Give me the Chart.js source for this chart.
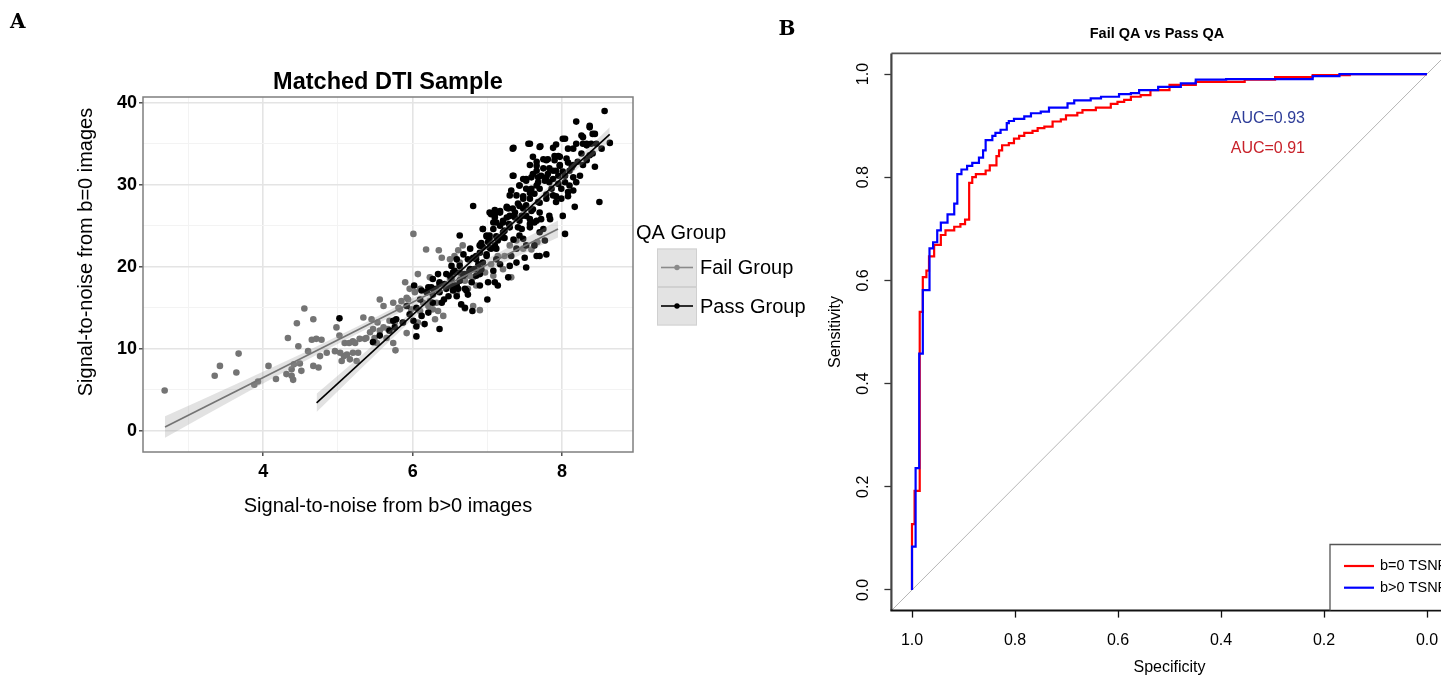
<!DOCTYPE html>
<html><head><meta charset="utf-8">
<script src="https://cdn.jsdelivr.net/npm/chart.js@4.4.1/dist/chart.umd.min.js"></script>
<style>
html,body{margin:0;padding:0;width:1441px;height:675px;overflow:hidden;background:#fff;}
#wrapA{position:absolute;left:0;top:0;width:830px;height:675px;}
#wrapB{position:absolute;left:770px;top:0;width:774px;height:700px;}
.lab{position:absolute;font-family:"DejaVu Serif","Liberation Serif",serif;font-weight:bold;font-size:20px;line-height:1;color:#000;}
</style></head><body>
<div id="wrapA"><canvas id="cA" width="830" height="675"></canvas></div>
<div id="wrapB"><canvas id="cB" width="774" height="700"></canvas></div>
<div class="lab" style="left:10px;top:11px">A</div>
<div class="lab" style="left:778.5px;top:18.4px">B</div>
<script>
// ---------- Panel A data ----------
const failX = [2.68,3.35,3.42,3.64,3.67,3.88,3.93,4.07,4.17,4.31,
4.33,4.38,4.40,4.41,4.45,4.47,4.49,4.51,4.55,4.60,
4.65,4.67,4.67,4.71,4.74,4.76,4.78,4.96,4.98,5.02,
5.05,5.08,5.09,5.12,5.15,5.20,5.23,5.25,5.27,5.29,
5.34,5.36,5.45,5.47,5.49,5.53,5.56,5.56,5.61,5.65,
5.67,5.74,5.77,5.81,5.85,5.90,5.92,5.94,5.96,5.92,
6.01,6.07,6.10,6.18,6.19,6.21,6.23,6.27,6.30,6.34,
6.35,6.39,6.41,6.50,6.56,6.61,6.67,6.63,6.64,6.70,
6.76,6.81,6.88,6.90,6.97,7.05,7.14,7.23,7.30,7.32,
7.39,7.48,7.59,7.67,6.81,6.70,6.59,6.74,6.85,6.23,
6.32,6.14,6.03,5.83,5.76,5.69,5.43,5.38,5.20,5.16,
5.03,4.85,4.38,5.61,5.74,5.98,6.10,6.07,5.87,5.52,
6.50,7.08,7.21];
const failY = [4.9,6.7,7.9,7.1,9.4,5.6,6.0,7.9,6.3,6.9,
11.3,6.7,6.2,8.1,13.1,10.3,8.2,7.3,14.9,9.7,
11.1,13.6,7.9,11.2,7.7,9.1,11.1,9.7,12.6,11.6,
8.5,9.1,10.7,9.3,10.7,10.9,10.7,8.5,9.5,11.2,
13.8,11.2,13.6,12.4,11.3,13.2,16.0,12.2,12.6,11.3,
12.4,10.7,9.8,15.0,15.8,18.1,16.2,16.0,17.3,11.9,
24.0,19.1,17.3,22.1,16.9,15.2,18.7,14.8,13.6,14.6,
22.0,21.1,14.0,20.9,21.3,22.0,22.6,20.5,18.5,18.3,
18.9,18.7,19.1,14.7,19.3,20.3,21.3,21.3,22.6,18.7,
23.2,22.2,22.1,23.0,15.2,14.9,16.7,17.3,17.7,15.8,
15.6,15.6,16.9,14.8,13.2,13.4,12.0,11.3,9.5,8.7,
9.5,9.5,7.5,15.2,15.6,14.8,14.6,13.2,13.2,10.7,
18.5,18.9,19.7];
const passX = [5.02,5.74,5.78,5.92,6.02,6.05,6.05,6.12,6.16,6.21,
6.25,6.27,6.34,6.36,6.39,6.36,6.45,6.50,6.54,6.56,
6.59,6.63,6.65,6.70,6.72,6.74,6.80,6.90,7.00,7.10,
7.14,6.81,6.85,6.90,6.99,7.05,7.10,7.17,7.21,7.26,
7.28,7.29,7.34,7.34,7.39,7.41,7.43,7.46,7.48,7.50,
7.52,7.55,7.48,7.52,7.59,7.66,7.70,7.68,7.70,7.72,
7.75,7.77,7.79,7.70,7.63,7.57,7.59,7.79,7.86,7.88,
7.92,7.97,8.01,8.04,8.01,8.04,8.08,8.15,8.17,8.19,
8.24,8.28,8.33,8.37,8.41,8.44,8.50,8.19,8.28,8.37,
8.41,8.57,8.64,8.53,8.46,7.92,7.88,8.04,8.08,7.79,
7.75,7.66,7.59,7.52,7.43,7.39,7.34,7.32,7.26,7.21,
7.12,7.08,7.03,7.01,6.94,6.90,6.81,6.74,6.63,6.56,
6.52,6.43,6.36,6.27,6.19,6.10,6.05,5.96,5.87,5.76,
5.69,5.56,5.47,7.61,7.66,7.72,7.83,7.95,7.99,8.10,
8.15,8.21,8.26,8.33,8.39,8.06,7.97,7.90,7.83,7.77,
7.70,7.63,7.57,7.52,7.48,7.41,7.37,7.30,7.23,7.19,
7.14,7.10,7.05,6.99,6.94,6.88,6.83,6.76,6.70,6.63,
6.59,6.54,6.48,6.42,6.32,6.27,6.21,6.12,6.01,7.83,
7.92,7.99,7.88,8.10,8.15,7.95,7.81,7.68,7.57,7.48,
7.43,7.57,7.63,7.70,7.52,7.39,7.32,7.30,7.17,7.12,
7.08,7.01,6.92,6.85,6.79,6.70,6.61,7.66,
7.35,7.57,7.71,7.75,7.81,7.90,7.95,8.01,8.15,8.19,
8.28,8.33,8.37,8.44,8.26,8.04,7.66,7.61,7.52,7.43,
7.35,7.30,7.48,7.57,7.68,7.79,7.88,7.97,8.08,8.13,
7.79,7.70,7.61,7.52,7.43,7.37,7.26,7.17,7.10,7.08,
7.21,7.30,7.46,7.57,7.66,7.84,7.92,8.08,6.94,6.99,
7.12,7.23,7.35,6.92,7.03,
7.03,7.10,7.17,7.28,6.94,7.03,6.90,6.77,6.68,6.59,
6.85,6.99,7.12,6.77,6.63,6.52,6.45,6.36,6.27,6.50,
6.68,6.90];
const passY = [13.7,13.4,13.6,15.2,17.7,12.7,11.5,17.1,13.0,17.5,
17.5,16.6,19.1,12.4,15.6,16.9,17.3,18.9,19.3,17.7,
16.4,23.8,15.4,15.0,17.1,16.6,14.6,17.7,16.0,18.1,
17.7,27.4,21.3,22.6,23.8,26.4,26.9,25.0,24.2,27.3,
18.7,25.2,27.1,34.4,20.5,24.8,23.8,26.2,23.4,21.1,
19.9,35.0,28.3,29.5,29.5,29.9,34.6,27.9,26.6,25.8,
24.6,23.2,21.5,21.3,22.6,24.8,26.8,28.3,29.5,30.7,
31.7,32.4,31.6,30.3,26.2,24.0,29.1,32.4,27.3,30.3,
31.1,32.4,33.0,33.6,33.8,32.2,27.9,37.7,35.8,37.2,
36.2,39.0,35.1,34.4,35.0,34.9,34.5,35.6,34.4,33.0,
32.0,31.7,30.9,30.5,29.9,28.7,31.1,29.3,26.0,25.6,
25.4,24.6,23.8,23.0,22.4,21.7,21.1,20.9,20.1,19.5,
18.5,17.9,17.9,18.5,16.9,16.0,15.0,14.2,13.2,12.6,
12.2,11.6,10.8,33.4,32.8,31.1,30.3,30.1,29.5,31.7,
30.9,32.8,33.8,34.8,35.0,33.2,33.4,33.0,32.0,30.5,
29.5,28.9,28.3,27.5,27.1,27.7,26.0,26.2,24.4,23.6,
23.2,22.6,22.2,21.5,20.5,20.3,19.7,19.5,19.1,18.3,
17.7,17.1,16.4,16.0,17.3,15.6,14.4,14.0,13.4,26.2,
27.9,28.3,28.7,29.9,29.3,31.1,31.3,30.9,32.4,30.7,
25.6,25.8,25.4,24.2,22.6,22.2,21.3,20.1,20.3,20.9,
19.5,18.1,19.7,18.9,18.1,17.3,17.3,21.3,
34.5,35.0,34.7,33.1,33.1,33.5,33.5,35.6,34.4,35.0,
35.0,35.0,37.0,36.2,36.0,31.1,32.3,31.3,30.7,29.9,
31.1,28.7,28.6,29.0,30.3,30.9,31.7,32.3,32.7,32.1,
28.8,27.8,27.0,26.2,27.4,26.6,27.2,26.6,26.4,25.4,
25.4,24.8,24.6,25.2,25.6,25.8,28.6,28.6,24.6,23.7,
23.7,23.5,23.3,22.9,22.3,
26.6,26.0,26.8,27.1,24.6,23.4,22.6,22.2,21.5,20.9,
20.9,21.3,22.2,19.7,19.3,20.1,19.1,18.1,17.3,17.7,
18.9,19.1];
// linear fits and their confidence bands
const failFitX = [2.685, 7.946];
const failFitY = [0.45, 24.6];
const passFitX = [4.714, 8.638];
const passFitY = [3.39, 36.15];
const failBandX  = [2.685, 3.2, 3.8, 4.5, 5.3, 6.2, 7.0, 7.946];
const failBandLo = [-0.85, 1.76, 4.77, 8.23, 12.0, 16.08, 19.56, 23.55];
const failBandHi = [1.75, 3.86, 6.37, 9.33, 12.9, 17.08, 20.96, 25.65];
const passBandX  = [4.714, 5.3, 6.0, 6.8, 7.5, 8.1, 8.638];
const passBandLo = [2.29, 7.48, 13.63, 20.46, 26.30, 31.11, 35.3];
const passBandHi = [4.49, 9.08, 14.63, 21.16, 27.00, 32.21, 37.0];
const A_xGrid = [3,4,5,6,7,8];
const A_xMajor = [4,6,8];
const A_yGrid = [0,5,10,15,20,25,30,35,40];
const A_yMajor = [0,10,20,30,40];
const A_yTitle = 'Signal-to-noise from b=0 images';
const legendTitle = 'QA Group';
const legendItems = ['Fail Group','Pass Group'];

// ---------- Panel B data (ROC: specificity, sensitivity corners) ----------
const rocSpecBgt0 = [1,1,0.993,0.986,0.979,0.966,0.959,0.951,0.944,0.931,
0.918,0.912,0.904,0.893,0.883,0.870,0.862,0.857,0.844,0.838,
0.828,0.816,0.812,0.802,0.782,0.769,0.750,0.734,0.698,0.685,
0.653,0.633,0.598,0.575,0.559,0.522,0.478,0.449,0.390,0.222,
0.17,0.0];
const rocSensBgt0 = [0,0.084,0.236,0.458,0.581,0.662,0.674,0.697,0.712,0.728,
0.749,0.806,0.815,0.822,0.828,0.838,0.852,0.872,0.880,0.886,
0.892,0.905,0.909,0.913,0.918,0.924,0.927,0.935,0.943,0.949,
0.953,0.956,0.961,0.963,0.969,0.975,0.982,0.989,0.990,0.996,
1.0,1.0];
const rocSpecB0 = [1,1,0.995,0.985,0.979,0.972,0.967,0.957,0.944,0.935,
0.918,0.906,0.897,0.889,0.883,0.876,0.857,0.849,0.836,0.831,
0.825,0.812,0.802,0.792,0.782,0.766,0.756,0.743,0.727,0.711,
0.701,0.679,0.669,0.643,0.614,0.601,0.588,0.575,0.556,0.537,
0.5,0.449,0.354,0.295,0.222,0.15,0.0];
const rocSensB0 = [0,0.1275,0.192,0.539,0.6065,0.619,0.6466,0.669,0.688,0.697,
0.704,0.709,0.718,0.789,0.800,0.806,0.813,0.823,0.841,0.852,
0.862,0.866,0.875,0.880,0.886,0.890,0.895,0.898,0.908,0.912,
0.920,0.925,0.930,0.935,0.942,0.946,0.950,0.956,0.959,0.969,
0.979,0.985,0.989,0.994,0.998,1.0,1.0];
const refSpec = [1.04, -0.04];
const refSens = [-0.04, 1.04];
const specTickVals = [1,0.8,0.6,0.4,0.2,0];
const specTickLabels = ['1.0','0.8','0.6','0.4','0.2','0.0'];
const sensTickVals = [0,0.2,0.4,0.6,0.8,1];
const sensTickLabels = ['0.0','0.2','0.4','0.6','0.8','1.0'];
const aucTexts = ['AUC=0.93','AUC=0.91'];
const aucSpec = 0.309;
const aucSens = [0.913, 0.855];
const rocLegend = ['b=0 TSNR','b>0 TSNR'];

// ---------- helpers / styles ----------
const SANS = '"Liberation Sans", Arimo, Arial, Helvetica, sans-serif';
Chart.defaults.font.family = SANS;
Chart.defaults.color = '#000';
const toPts = (xs, ys) => xs.map((x, i) => ({x: x, y: ys[i]}));
const FAIL_COL = '#747474';
const PASS_COL = '#000000';
const BAND_COL = 'rgba(150,150,150,0.28)';

const decorA = {
  id: 'decorA',
  afterDraw(chart) {
    const c = chart.ctx, a = chart.chartArea;
    c.save();
    c.strokeStyle = '#7f7f7f'; c.lineWidth = 1.5;
    c.strokeRect(a.left, a.top, a.right - a.left, a.bottom - a.top);
    c.font = '20px ' + SANS;
    c.fillStyle = '#000';
    // y-axis title
    c.save(); c.translate(86, 252); c.rotate(-Math.PI / 2);
    c.textAlign = 'center'; c.textBaseline = 'middle';
    c.fillText(A_yTitle, 0, 0); c.restore();
    c.textBaseline = 'middle'; c.textAlign = 'left';
    c.fillText(legendTitle, 636, 233);
    const cols = ['#8a8a8a', PASS_COL];
    legendItems.forEach((name, i) => {
      const top = 248.5 + i * 38.5;
      c.fillStyle = '#e3e3e3'; c.fillRect(657, top, 40, 38.5);
      c.strokeStyle = '#d0d0d0'; c.lineWidth = 1; c.strokeRect(657.5, top + 0.5, 39, 37.5);
      const cy = top + 19;
      c.strokeStyle = cols[i]; c.lineWidth = 1.6;
      c.beginPath(); c.moveTo(661, cy); c.lineTo(693, cy); c.stroke();
      c.fillStyle = cols[i]; c.beginPath(); c.arc(677, cy, 2.7, 0, 2 * Math.PI); c.fill();
      c.fillStyle = '#000'; c.fillText(name, 700, cy + 1);
    });
    c.restore();
  }
};

const gridColA = (maj) => (ctx) => maj.includes(ctx.tick && ctx.tick.value) ? '#e4e4e4' : '#f3f3f3';
const gridWA = (maj) => (ctx) => maj.includes(ctx.tick && ctx.tick.value) ? 1.6 : 1;
const tickColA = (maj) => (ctx) => maj.includes(ctx.tick && ctx.tick.value) ? '#333' : 'rgba(0,0,0,0)';

new Chart(document.getElementById('cA'), {
  type: 'line',
  data: { datasets: [
    {label:'Pass fit', data: toPts(passFitX, passFitY), borderColor: PASS_COL, borderWidth: 1.6, pointRadius: 0, fill: false},
    {label:'Pass band hi', data: toPts(passBandX, passBandHi), borderColor:'rgba(0,0,0,0)', borderWidth: 1, pointRadius: 0, fill: '+1', backgroundColor: BAND_COL},
    {label:'Pass band lo', data: toPts(passBandX, passBandLo), borderColor:'rgba(0,0,0,0)', borderWidth: 1, pointRadius: 0, fill: false},
    {label:'Fail fit', data: toPts(failFitX, failFitY), borderColor: FAIL_COL, borderWidth: 1.6, pointRadius: 0, fill: false},
    {label:'Fail band hi', data: toPts(failBandX, failBandHi), borderColor:'rgba(0,0,0,0)', borderWidth: 1, pointRadius: 0, fill: '+1', backgroundColor: BAND_COL},
    {label:'Fail band lo', data: toPts(failBandX, failBandLo), borderColor:'rgba(0,0,0,0)', borderWidth: 1, pointRadius: 0, fill: false},
    {label:'Pass Group', data: toPts(passX, passY), showLine: false, pointRadius: 3.3, pointBorderWidth: 0, pointBackgroundColor: PASS_COL, pointBorderColor: PASS_COL},
    {label:'Fail Group', data: toPts(failX, failY), showLine: false, pointRadius: 3.3, pointBorderWidth: 0, pointBackgroundColor: FAIL_COL, pointBorderColor: FAIL_COL}
  ]},
  options: {
    responsive: false, animation: false, events: [],
    layout: { padding: { left: 0, right: 197, top: 0, bottom: 135 } },
    plugins: {
      legend: { display: false }, tooltip: { enabled: false },
      title: { display: true, text: 'Matched DTI Sample', fullSize: false, color: '#000',
               font: { size: 23.5, weight: 'bold' }, padding: { top: 68.8, bottom: 0 } }
    },
    scales: {
      x: { type: 'linear', min: 2.39, max: 8.95,
        afterBuildTicks: s => { s.ticks = A_xGrid.map(v => ({value: v})); },
        afterFit: s => { s.height = 88; },
        ticks: { autoSkip: false, maxRotation: 0, minRotation: 0, padding: 5,
                 callback: v => A_xMajor.includes(v) ? String(v) : '',
                 font: { size: 18, weight: 'bold' }, color: '#000' },
        grid: { color: gridColA(A_xMajor), lineWidth: gridWA(A_xMajor), tickColor: tickColA(A_xMajor), tickWidth: 1.3, tickLength: 4, drawTicks: true },
        border: { display: false },
        title: { display: true, text: 'Signal-to-noise from b>0 images', color: '#000', font: { size: 20 }, padding: { top: 0, bottom: 22 } }
      },
      y: { type: 'linear', min: -2.6, max: 40.7,
        afterBuildTicks: s => { s.ticks = A_yGrid.map(v => ({value: v})); },
        afterFit: s => { s.width = 143; },
        ticks: { autoSkip: false, padding: 2,
                 callback: v => A_yMajor.includes(v) ? String(v) : '',
                 font: { size: 18, weight: 'bold' }, color: '#000' },
        grid: { color: gridColA(A_yMajor), lineWidth: gridWA(A_yMajor), tickColor: tickColA(A_yMajor), tickWidth: 1.3, tickLength: 4, drawTicks: true },
        border: { display: false },
        title: { display: false }
      }
    }
  },
  plugins: [decorA]
});

// ---------- Panel B ----------
const decorB = {
  id: 'decorB',
  afterDraw(chart) {
    const c = chart.ctx, a = chart.chartArea, xs = chart.scales.x, ys = chart.scales.y;
    c.save();
    c.lineWidth = 1.6; c.strokeStyle = '#555';
    c.beginPath(); c.moveTo(a.left, a.top); c.lineTo(a.right, a.top); c.stroke();
    c.lineWidth = 2.2; c.strokeStyle = '#444';
    c.beginPath(); c.moveTo(a.left, a.top); c.lineTo(a.left, a.bottom); c.stroke();
    c.strokeStyle = '#111'; c.lineWidth = 2;
    c.beginPath(); c.moveTo(a.left - 1, a.bottom); c.lineTo(a.right, a.bottom); c.stroke();
    c.fillStyle = '#000'; c.font = '16px ' + SANS; c.textAlign = 'center'; c.textBaseline = 'middle';
    sensTickVals.forEach((v, i) => {
      c.save(); c.translate(94, ys.getPixelForValue(v)); c.rotate(-Math.PI / 2);
      c.fillText(sensTickLabels[i], 0, 0); c.restore();
    });
    c.font = 'bold 14.5px ' + SANS;
    c.fillText('Fail QA vs Pass QA', 387, 34);
    c.font = '16px ' + SANS;
    c.fillStyle = '#2d3c98';
    c.fillText(aucTexts[0], xs.getPixelForValue(aucSpec), ys.getPixelForValue(aucSens[0]));
    c.fillStyle = '#c8222a';
    c.fillText(aucTexts[1], xs.getPixelForValue(aucSpec), ys.getPixelForValue(aucSens[1]));
    const lx = 560, ly = 544.5;
    c.fillStyle = '#fff'; c.fillRect(lx, ly, a.right - lx, a.bottom - ly - 1);
    c.strokeStyle = '#555'; c.lineWidth = 1.3;
    c.beginPath(); c.moveTo(lx, a.bottom); c.lineTo(lx, ly); c.lineTo(a.right, ly); c.stroke();
    const cols = ['#ff0000', '#0000ff'];
    c.font = '14.5px ' + SANS; c.textAlign = 'left';
    rocLegend.forEach((t, i) => {
      const yy = 566 + i * 21.7;
      c.strokeStyle = cols[i]; c.lineWidth = 2.2;
      c.beginPath(); c.moveTo(574, yy); c.lineTo(604, yy); c.stroke();
      c.fillStyle = '#000'; c.fillText(t, 610, yy);
    });
    c.restore();
  }
};

new Chart(document.getElementById('cB'), {
  type: 'line',
  data: { datasets: [
    {label:'b>0 TSNR', data: toPts(rocSpecBgt0, rocSensBgt0), borderColor:'#0000ff', borderWidth: 2.2, stepped: 'before', pointRadius: 0, fill: false},
    {label:'b=0 TSNR', data: toPts(rocSpecB0, rocSensB0), borderColor:'#ff0000', borderWidth: 2.2, stepped: 'before', pointRadius: 0, fill: false},
    {label:'chance', data: toPts(refSpec, refSens), borderColor:'#b5b5b5', borderWidth: 1, pointRadius: 0, fill: false}
  ]},
  options: {
    responsive: false, animation: false, events: [],
    layout: { padding: { left: 0, right: 96.4, top: 53.4, bottom: 0 } },
    plugins: { legend: { display: false }, tooltip: { enabled: false }, title: { display: false } },
    scales: {
      x: { type: 'linear', reverse: true, min: -0.04, max: 1.04,
        afterBuildTicks: s => { s.ticks = specTickVals.map(v => ({value: v})); },
        afterFit: s => { s.height = 89.4; },
        ticks: { autoSkip: false, maxRotation: 0, minRotation: 0, padding: 13,
                 callback: v => specTickLabels[specTickVals.indexOf(v)],
                 font: { size: 16 }, color: '#000' },
        grid: { color: 'rgba(0,0,0,0)', drawTicks: true, tickLength: 7, tickColor: '#111', tickWidth: 1.3 },
        border: { display: false },
        title: { display: true, text: 'Specificity', color: '#000', font: { size: 16 }, padding: { top: 0, bottom: 22.5 } }
      },
      y: { type: 'linear', min: -0.04, max: 1.04,
        afterBuildTicks: s => { s.ticks = sensTickVals.map(v => ({value: v})); },
        afterFit: s => { s.width = 121.4; },
        ticks: { display: false },
        grid: { color: 'rgba(0,0,0,0)', drawTicks: true, tickLength: 7, tickColor: '#333', tickWidth: 1.3 },
        border: { display: false },
        title: { display: true, text: 'Sensitivity', color: '#000', font: { size: 16 }, padding: { top: 56.4, bottom: 0 } }
      }
    }
  },
  plugins: [decorB]
});
</script>
</body></html>
